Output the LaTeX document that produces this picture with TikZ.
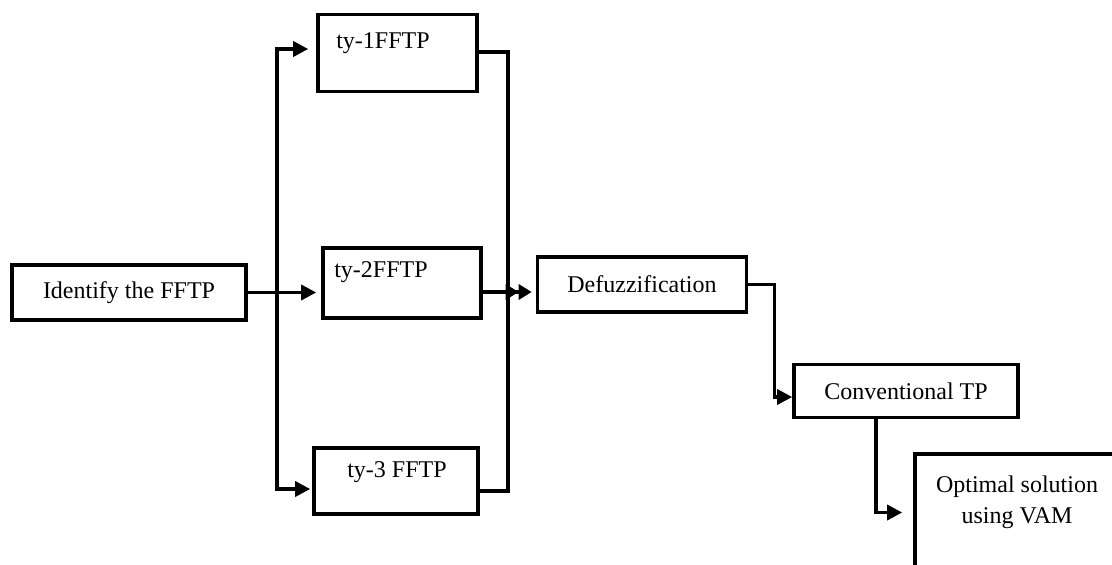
\documentclass[tikz,border=0pt]{standalone}
\usepackage{fontspec}
\setmainfont{Liberation Serif}
\usetikzlibrary{arrows.meta}
\begin{document}
\begin{tikzpicture}[x=1pt,y=-1pt,
  box/.style={draw,line width=3.6pt,rectangle,inner sep=0pt,font=\fontsize{24}{28}\selectfont},
  lbl/.style={inner sep=0pt,font=\fontsize{24}{31}\selectfont,align=center},
  conn/.style={line width=3.4pt},
  arr/.style={line width=3.4pt,-{Triangle[length=15pt,width=15pt]}},
  darr/.style={line width=3.4pt,-{Triangle[length=13pt,width=15pt]Triangle[length=13pt,width=15pt]}}]
\useasboundingbox (0,0) rectangle (1112,565);
% boxes
\node[box,minimum width=234pt,minimum height=55pt] (ident) at (129,292.5) {Identify the FFTP};
\node[box,minimum width=159pt,minimum height=77pt] (t1) at (397.5,53) {};
\node[lbl] (t1t) at (383,43) {ty-1FFTP};
\node[box,minimum width=158pt,minimum height=70pt] (t2) at (402,283) {};
\node[lbl] (t2t) at (381,272) {ty-2FFTP};
\node[box,minimum width=164pt,minimum height=66pt] (t3) at (396,481) {};
\node[lbl] (t3t) at (397,472) {ty-3 FFTP};
\node[box,minimum width=209pt,minimum height=55pt] (defuz) at (642,284.5) {Defuzzification};
\node[box,minimum width=224pt,minimum height=53pt] (ctp) at (906,391) {Conventional TP};
\node[box,minimum width=210pt,minimum height=121pt] (opt) at (1020,514.5) {};
\node[lbl] (optt) at (1017,502) {Optimal solution\\using VAM};
% connectors
\coordinate (split) at (277,292.5);
\coordinate (merge) at (508,292);
\draw[arr,shorten >=5pt] (ident.east) -- (ident.east -| t2.west);
\draw[arr,shorten >=8pt] (split) |- ([yshift=4pt]t1.west);
\draw[arr,shorten >=2pt] (split) |- ([yshift=-8pt]t3.west);
\draw[conn] ([yshift=1pt]t1.east) -| (merge);
\draw[conn] ([yshift=-10pt]t3.east) -| (merge);
\draw[darr,shorten >=4pt] (t2.east |- merge) -- (merge -| defuz.west);
\draw[arr] (defuz.east) -- ++(26,0) |- ([yshift=-6pt]ctp.west);
\draw[arr,shorten >=11pt] ([xshift=-30pt]ctp.south) |- ([yshift=2pt]opt.west);
\end{tikzpicture}
\end{document}
